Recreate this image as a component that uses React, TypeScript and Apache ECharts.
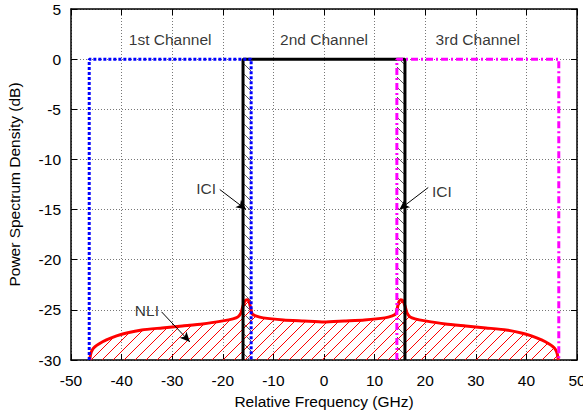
import React, { useEffect, useRef } from "react";
import * as echarts from "echarts";

// Channel spectra (frequency GHz, PSD dB)
const ch1Freq = [-46.4, -46.4, -14.4, -14.4];
const ch1Psd = [-30, 0, 0, -30];
const ch2Freq = [-16, -16, 16, 16];
const ch2Psd = [-30, 0, 0, -30];
const ch3Freq = [14.4, 14.4, 46.4, 46.4];
const ch3Psd = [-30, 0, 0, -30];

// NLI spectrum
const nliFreq = [
  -46.3, -46.1, -45.8, -45.3, -44.5, -43, -41, -39, -36, -32, -28, -24, -20, -18, -17, -16.4, -16,
  -15.6, -15.2, -14.8, -14.5, -14.2, -13.5, -12, -8, -4, 0, 4, 8, 12, 13.5, 14.2, 14.5, 14.8, 15.2,
  15.6, 16, 16.4, 17, 18, 20, 24, 28, 32, 36, 39, 41, 43, 44.5, 45.3, 45.8, 46.1, 46.3,
];
const nliPsd = [
  -30, -29.4, -29.0, -28.7, -28.4, -28.0, -27.6, -27.3, -27.0, -26.8, -26.6, -26.4, -26.1, -25.9,
  -25.7, -25.3, -24.6, -24.1, -24.0, -24.2, -24.8, -25.4, -25.6, -25.8, -26.0, -26.1, -26.2, -26.1,
  -26.0, -25.8, -25.6, -25.4, -24.8, -24.2, -24.0, -24.1, -24.6, -25.3, -25.7, -25.9, -26.1, -26.4,
  -26.6, -26.8, -27.0, -27.3, -27.6, -28.0, -28.4, -28.7, -29.0, -29.4, -30,
];

// ICI bands (hatched)
const iciBands = [
  [-16, -14.4],
  [14.4, 16],
];

// Text labels
const labelNames = ["1st Channel", "2nd Channel", "3rd Channel", "ICI", "ICI", "NLI"];
const labelX = [-30.4, 0, 30.4, -23.3, 23.3, -35];
const labelY = [2, 2, 2, -12.9, -13.2, -25.1];

// Arrows [x1, y1, x2, y2]
const arrows = [
  [-20.6, -13, -15.4, -15],
  [20.6, -12.8, 14.9, -15],
  [-32.1, -25.2, -26.5, -28.2],
];

const X_MIN = -50;
const X_MAX = 50;
const X_INT = 10;
const Y_MIN = -30;
const Y_MAX = 5;
const Y_INT = 5;

function zip(a: number[], b: number[]) {
  return a.map((v, i) => [v, b[i]]);
}

function hatch(color: string, dir: "/" | "\\", s: number) {
  const d =
    dir === "/"
      ? `M-1 ${s + 1} L${s + 1} -1 M-1 1 L1 -1 M${s - 1} ${s + 1} L${s + 1} ${s - 1}`
      : `M-1 -1 L${s + 1} ${s + 1} M${s - 1} -1 L${s + 1} 1 M-1 ${s - 1} L1 ${s + 1}`;
  const svg = `<svg xmlns="http://www.w3.org/2000/svg" width="${s}" height="${s}"><path d="${d}" stroke="${color}" stroke-width="1" fill="none"/></svg>`;
  return {
    image: "data:image/svg+xml;base64," + btoa(svg),
    repeat: "repeat",
    imageWidth: s,
    imageHeight: s,
  };
}

const FONT = "Liberation Sans, Arial, sans-serif";
const FS = 15.5;

export default function App() {
  const ref = useRef<HTMLDivElement>(null);
  useEffect(() => {
    if (!ref.current) return;
    const chart = echarts.init(ref.current, undefined, { renderer: "svg" });
    const redHatch = hatch("#ff0000", "/", 11);
    const grayHatch = hatch("#555555", "\\", 10);

    const axisLine = { show: true, onZero: false, lineStyle: { color: "#000", width: 1.5 } };
    const tick = { show: true, inside: true, length: 6, lineStyle: { color: "#000", width: 1 } };
    const labelStyle = { color: "#000", fontSize: FS, fontFamily: FONT };

    const option: any = {
      animation: false,
      backgroundColor: "#fff",
      grid: { left: 71, right: 6, top: 9, bottom: 56, containLabel: false, outerBoundsMode: "none" },
      xAxis: [
        {
          type: "value",
          min: X_MIN,
          max: X_MAX,
          interval: X_INT,
          position: "bottom",
          axisLine,
          axisTick: tick,
          axisLabel: { ...labelStyle, margin: 12 },
          splitLine: { show: true, lineStyle: { color: "#777", width: 1, type: [1, 2] } },
          name: "Relative Frequency (GHz)",
          nameLocation: "middle",
          nameGap: 33,
          nameTextStyle: labelStyle,
        },
        {
          type: "value",
          min: X_MIN,
          max: X_MAX,
          interval: X_INT,
          position: "top",
          axisLine,
          axisTick: tick,
          axisLabel: { show: false },
          splitLine: { show: false },
        },
      ],
      yAxis: [
        {
          type: "value",
          min: Y_MIN,
          max: Y_MAX,
          interval: Y_INT,
          position: "left",
          axisLine,
          axisTick: tick,
          axisLabel: { ...labelStyle, margin: 10 },
          splitLine: { show: true, lineStyle: { color: "#777", width: 1, type: [1, 2] } },
          name: "Power Spectrum Density (dB)",
          nameLocation: "middle",
          nameGap: 49,
          nameTextStyle: labelStyle,
        },
        {
          type: "value",
          min: Y_MIN,
          max: Y_MAX,
          interval: Y_INT,
          position: "right",
          axisLine,
          axisTick: tick,
          axisLabel: { show: false },
          splitLine: { show: false },
        },
      ],
      series: [
        {
          type: "line",
          name: "NLI",
          data: zip(nliFreq, nliPsd),
          showSymbol: false,
          symbol: "none",
          smooth: 0.2,
          z: 2,
          lineStyle: { color: "#ff0000", width: 3 },
          areaStyle: {
            origin: "start",
            opacity: 1,
            color: redHatch,
          },
        },
        {
          type: "line",
          name: "2nd",
          data: zip(ch2Freq, ch2Psd),
          symbol: "none",
          z: 3,
          lineStyle: { color: "#000000", width: 3 },
          markArea: {
            silent: true,
            itemStyle: { color: grayHatch, opacity: 1, borderWidth: 0 },
            data: iciBands.map((b) => [{ coord: [b[0], 0] }, { coord: [b[1], Y_MIN] }]),
          },
        },
        {
          type: "line",
          name: "1st",
          data: zip(ch1Freq, ch1Psd),
          symbol: "none",
          z: 4,
          lineStyle: { color: "#0000ff", width: 3, type: [3, 2], cap: "butt" },
        },
        {
          type: "line",
          name: "3rd",
          data: zip(ch3Freq, ch3Psd),
          symbol: "none",
          z: 4,
          lineStyle: { color: "#ff00ff", width: 3, type: [7, 3, 2, 3], cap: "butt" },
        },
        {
          type: "scatter",
          name: "labels",
          symbolSize: 0,
          z: 5,
          data: labelNames.map((n, i) => ({ name: n, value: [labelX[i], labelY[i]] })),
          label: {
            show: true,
            position: "inside",
            formatter: "{b}",
            ...labelStyle,
          },
          markLine: {
            silent: true,
            symbol: ["none", "arrow"],
            symbolSize: [7, 10],
            label: { show: false },
            lineStyle: { color: "#000", width: 1, type: "solid" },
            data: arrows.map((a) => [{ coord: [a[0], a[1]] }, { coord: [a[2], a[3]] }]),
          },
        },
      ],
    };
    chart.setOption(option);
    return () => chart.dispose();
  }, []);
  return <div ref={ref} style={{ width: 583, height: 416, position: "absolute", left: 0, top: 0 }} />;
}
